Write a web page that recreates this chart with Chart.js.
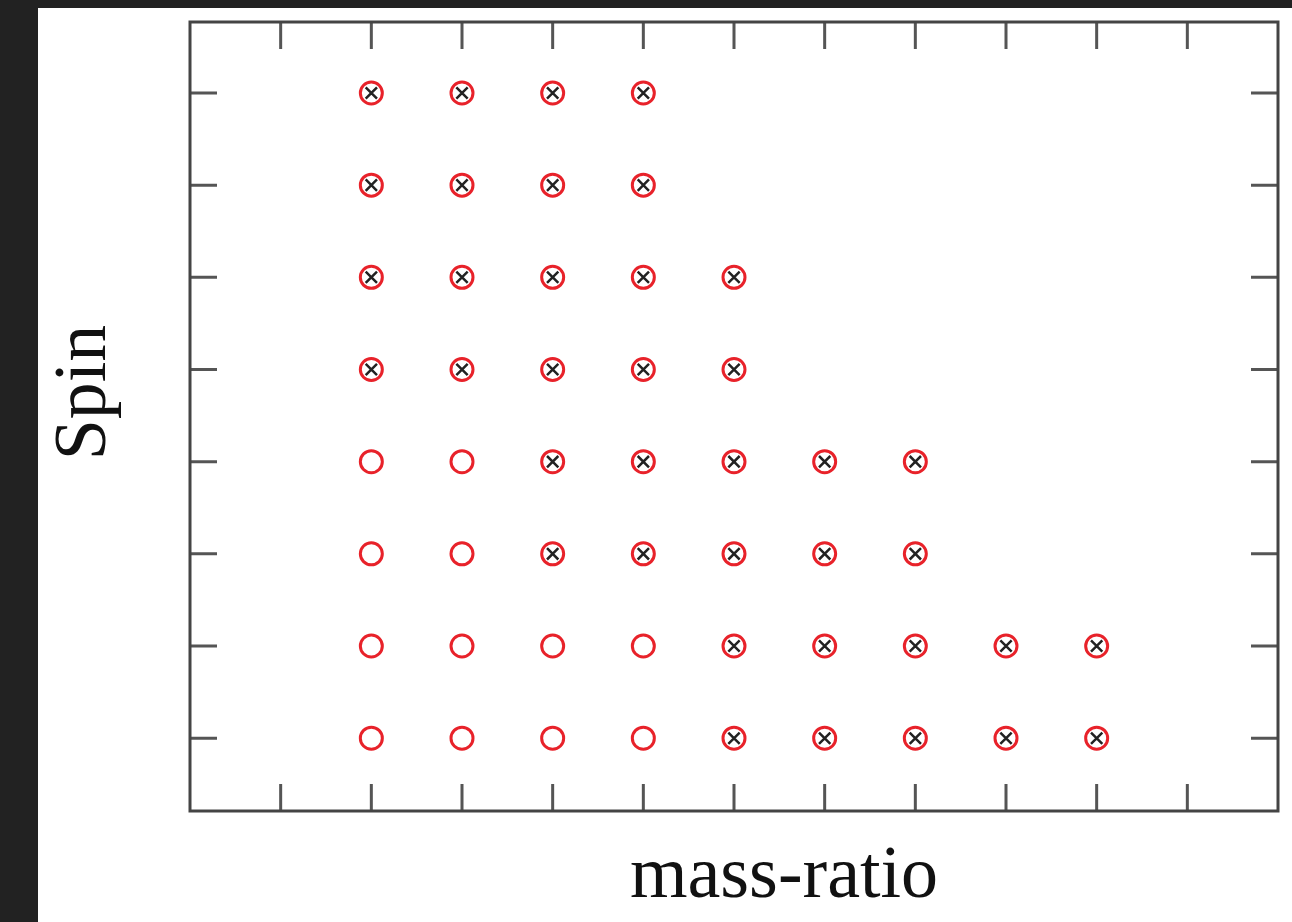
<!DOCTYPE html>
<html>
<head>
<meta charset="utf-8">
<script src="https://cdn.jsdelivr.net/npm/chart.js@4.4.1/dist/chart.umd.min.js"></script>
<style>
  html,body{margin:0;padding:0;background:#222;width:1292px;height:922px;overflow:hidden;}
  #panel{position:absolute;left:38px;top:8px;width:1254px;height:914px;background:#fff;}
</style>
</head>
<body>
<div id="panel"><canvas id="c" width="1254" height="914"></canvas></div>
<script>
// niveles de spin (eje y) y marcas de los ejes
const spins = [0,1,2,3,4,5,6,7];
const xTicks = [1,2,3,4,5,6,7,8,9,10,11];
const yTicks = [0,1,2,3,4,5,6,7];
// mass-ratio por fila de spin: solo círculo / círculo con cruz
const openBySpin  = [[2,3,4,5],[2,3,4,5],[2,3],[2,3],[],[],[],[]];
const crossBySpin = [[6,7,8,9,10],[6,7,8,9,10],[4,5,6,7,8],[4,5,6,7,8],[2,3,4,5,6],[2,3,4,5,6],[2,3,4,5],[2,3,4,5]];

const crossPts = [], allPts = [];
spins.forEach((s,i)=>{
  openBySpin[i].forEach(m=>allPts.push({x:m,y:s}));
  crossBySpin[i].forEach(m=>{ allPts.push({x:m,y:s}); crossPts.push({x:m,y:s}); });
});

// marco + ticks hacia adentro en los 4 lados, y títulos de ejes
const framePlugin={
  id:'frame',
  afterDraw(chart){
    const {ctx,chartArea:a,scales}=chart;
    ctx.save();
    ctx.strokeStyle='#555'; ctx.lineWidth=3; ctx.lineCap='butt';
    const L=27;
    xTicks.forEach(v=>{
      const px=scales.x.getPixelForValue(v);
      ctx.beginPath(); ctx.moveTo(px,a.bottom); ctx.lineTo(px,a.bottom-L);
      ctx.moveTo(px,a.top); ctx.lineTo(px,a.top+L); ctx.stroke();
    });
    yTicks.forEach(v=>{
      const py=scales.y.getPixelForValue(v);
      ctx.beginPath(); ctx.moveTo(a.left,py); ctx.lineTo(a.left+L,py);
      ctx.moveTo(a.right,py); ctx.lineTo(a.right-L,py); ctx.stroke();
    });
    ctx.strokeStyle='#444'; ctx.lineWidth=3;
    ctx.strokeRect(a.left,a.top,a.right-a.left,a.bottom-a.top);
    ctx.fillStyle='#111';
    ctx.font='74px "Liberation Serif", "DejaVu Serif", serif';
    ctx.textAlign='center'; ctx.textBaseline='alphabetic';
    ctx.fillText('mass-ratio',(a.left+a.right)/2+50,a.bottom+86);
    ctx.translate(67,(a.top+a.bottom)/2-24);
    ctx.rotate(-Math.PI/2);
    ctx.fillText('Spin',0,0);
    ctx.restore();
  }
};

new Chart(document.getElementById('c').getContext('2d'),{
  type:'scatter',
  data:{datasets:[
    {label:'estados',data:allPts,pointStyle:'circle',pointRadius:11,borderColor:'#e8222a',borderWidth:3,backgroundColor:'rgba(0,0,0,0)'},
    {label:'ligados',data:crossPts,pointStyle:'crossRot',pointRadius:8,borderColor:'#222',borderWidth:2.5,backgroundColor:'rgba(0,0,0,0)'}
  ]},
  options:{
    responsive:false,animation:false,
    layout:{padding:{left:152,top:13,right:7,bottom:111}},
    plugins:{legend:{display:false},tooltip:{enabled:false}},
    scales:{
      x:{type:'linear',min:0,max:12,display:false},
      y:{type:'linear',min:-0.79,max:7.77,display:false}
    }
  },
  plugins:[framePlugin]
});
</script>
</body>
</html>
